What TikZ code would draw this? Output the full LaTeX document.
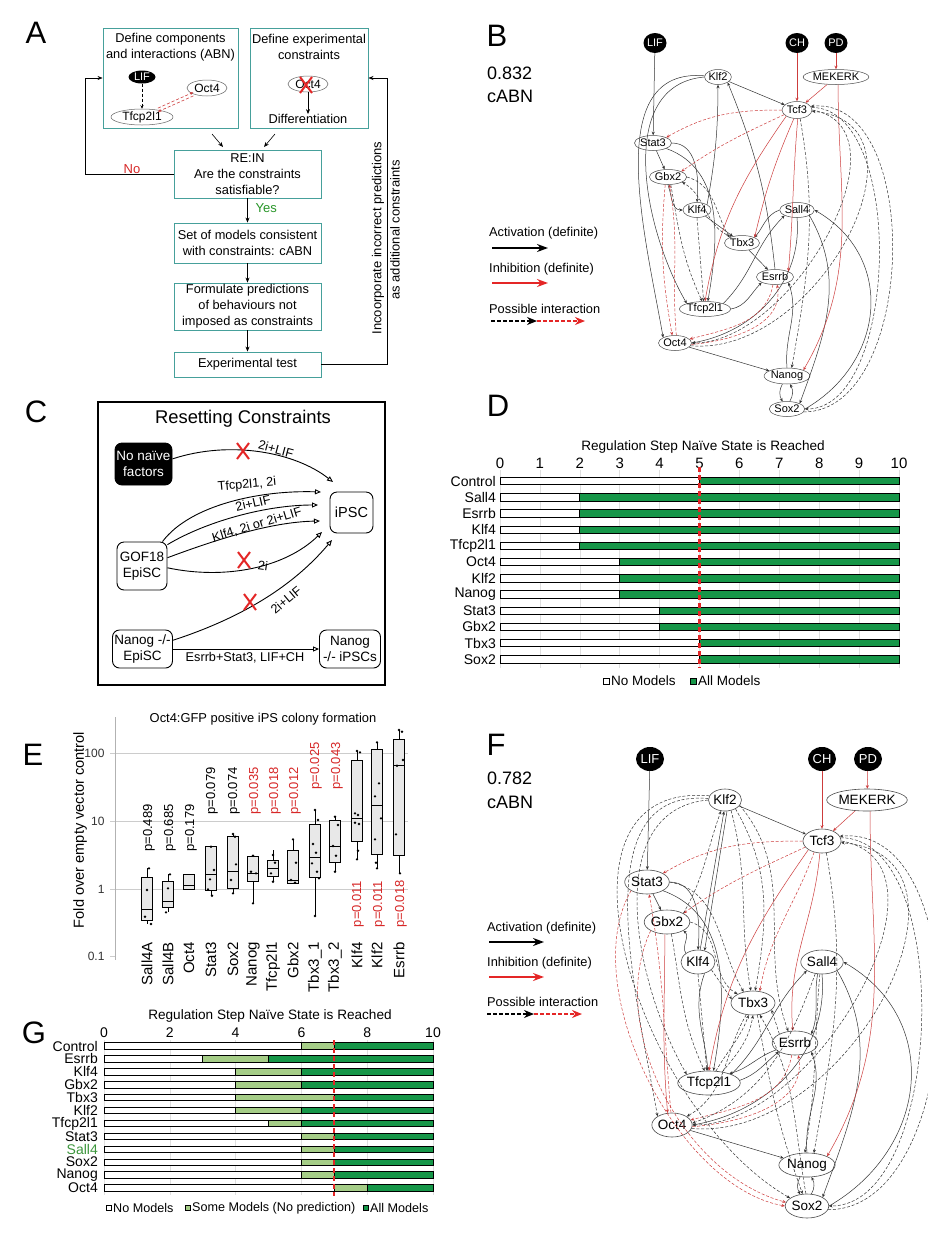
\documentclass[tikz,border=0pt]{standalone}
\usepackage{fontspec}
\setmainfont{Liberation Sans}
\usetikzlibrary{arrows.meta,shapes.geometric,calc}
\definecolor{tealb}{RGB}{70,160,155}
\definecolor{xred}{RGB}{228,38,38}
\definecolor{nred}{RGB}{205,60,60}
\definecolor{tred}{RGB}{215,40,40}
\definecolor{ygreen}{RGB}{40,150,40}
\definecolor{bgreen}{RGB}{22,150,72}
\definecolor{lgreen}{RGB}{165,205,135}
\definecolor{sgreen}{RGB}{60,150,60}
\newcommand{\fsz}[1]{\fontsize{#1}{#1}\selectfont}
\newcommand{\fsl}[2]{\fontsize{#1}{#2}\selectfont}
\newcommand{\redx}[1]{\draw[xred,line width=2pt] ($(#1)+(-6,-8)$) -- ($(#1)+(6,8)$) ($(#1)+(6,-8)$) -- ($(#1)+(-6,8)$);}
\begin{document}
\begin{tikzpicture}[x=1pt,y=-1pt,
 plab/.style={inner sep=0pt, font=\fsz{31}},
 abox/.style={draw=tealb, line width=0.9pt, inner sep=0pt},
 atxt/.style={align=center, font=\fsl{12.8}{16}, inner sep=0pt},
 aarr/.style={line width=0.6pt, -{Stealth[length=5pt,width=4pt]}},
 cn/.style={draw, rounded corners=7pt, line width=0.9pt, align=center, font=\fsl{13.5}{16.5}, inner sep=0pt},
 carr/.style={line width=0.9pt, -{Triangle[open,length=6pt,width=5pt]}},
 clab/.style={font=\fsz{12.7}, inner sep=1pt},
 bn/.style={ellipse, draw=black!70, line width=0.5pt, inner sep=0pt, font=\fsz{11}},
 bin/.style={ellipse, fill=black, text=white, inner sep=0pt, font=\fsz{11}, minimum width=23, minimum height=20},
 fn/.style={ellipse, draw=black!70, line width=0.6pt, inner sep=0pt, font=\fsz{13.5}},
 fin/.style={ellipse, fill=black, text=white, inner sep=0pt, font=\fsz{13}, minimum width=28, minimum height=24},
 eact/.style={draw=black!80, line width=0.5pt, -{Stealth[length=3.5pt,width=3pt]}},
 einh/.style={draw=nred, line width=0.5pt, -{Stealth[length=3.5pt,width=3pt]}},
 epact/.style={eact, dash pattern=on 3pt off 1.8pt},
 epinh/.style={einh, dash pattern=on 3pt off 1.8pt},
 lgtxt/.style={font=\fsz{12.8}, anchor=west, inner sep=0pt},
 lgarr/.style={line width=1.6pt, -{Stealth[length=11pt,width=8pt]}},
 lgdash/.style={line width=1.4pt, dash pattern=on 4pt off 2pt, -{Stealth[length=10pt,width=8pt]}},
 reddash/.style={draw=xred, line width=2.2pt, dash pattern=on 5pt off 3pt},
 ]
\useasboundingbox[fill=white] (0,0) rectangle (928,1240);

% ================= PANEL A =================
\node[plab] (labA) at (36,33) {A};
\node[abox, minimum width=135, minimum height=100] (a1) at (170.5,78) {};
\node[atxt] (a1t) at (170.5,47) {Define components\\and interactions (ABN)};
\node[ellipse, fill=black, text=white, inner sep=0pt, minimum width=27, minimum height=13, font=\fsz{11}] (aLIF) at (142,77) {LIF};
\node[ellipse, draw=black!60, line width=0.5pt, inner sep=0pt, minimum width=40, minimum height=16, font=\fsz{12}] (aOct4) at (207,88) {Oct4};
\node[ellipse, draw=black!60, line width=0.5pt, inner sep=0pt, minimum width=62, minimum height=16, font=\fsz{12}] (aTf) at (142,117) {Tfcp2l1};
\draw[line width=0.5pt, densely dashed, -{Stealth[length=3.5pt,width=3pt]}] (aLIF) -- (aTf);
\draw[nred, line width=0.6pt, densely dashed, -{Stealth[length=3.5pt,width=3pt]}, transform canvas={shift={(0,1.8)}}] (aOct4) -- (aTf);
\draw[nred, line width=0.6pt, densely dashed, -{Stealth[length=3.5pt,width=3pt]}, transform canvas={shift={(0,-1.8)}}] (aTf) -- (aOct4);

\node[abox, minimum width=118, minimum height=100] (a2) at (309,78) {};
\node[atxt] (a2t) at (309,47) {Define experimental\\constraints};
\node[ellipse, draw=black!60, line width=0.5pt, inner sep=0pt, minimum width=40, minimum height=16, font=\fsz{12}] (aOct4b) at (308,84) {Oct4};
\coordinate (ax1) at (306,85);
\redx{ax1}
\node[atxt] (adiff) at (308,119) {Differentiation};
\draw[aarr] (aOct4b) -- (adiff);

\node[abox, atxt, minimum width=147, minimum height=48] (arein) at (247.5,174) {RE:IN\\Are the constraints\\satisfiable?};
\node[abox, atxt, minimum width=147, minimum height=40] (aset) at (247.5,243) {Set of models consistent\\with constraints: cABN};
\node[abox, atxt, minimum width=147, minimum height=47] (aform) at (247.5,306.5) {Formulate predictions\\of behaviours not\\imposed as constraints};
\node[abox, atxt, minimum width=147, minimum height=25] (aexp) at (247.5,364.5) {Experimental test};

\coordinate (a1o) at (212,134); \coordinate (a1e) at (223,147);
\coordinate (a2o) at (275,134); \coordinate (a2e) at (264,147);
\draw[aarr] (a1o) -- (a1e);
\draw[aarr] (a2o) -- (a2e);
\draw[aarr] (arein.west) -- ++(-88,0) |- (a1.west);
\node[font=\fsz{13}, text=tred] (ano) at (132,169) {No};
\draw[aarr] (arein) -- (aset);
\node[font=\fsz{13}, text=ygreen, anchor=west] (ayes) at (252,208) {Yes};
\draw[aarr] (aset) -- (aform);
\draw[aarr] (aform) -- (aexp);
\draw[aarr] (aexp.east) -- (387,364.5) |- (a2.east);
\node[rotate=90, font=\fsz{13}] (afb1) at (378,238) {Incoorporate incorrect predictions};
\node[rotate=90, font=\fsz{13}] (afb2) at (395,230) {as additional constraints};

% ================= PANEL B =================
\node[plab] (labB) at (497,36) {B};
\node[font=\fsz{18}, anchor=west, inner sep=0pt] (bval) at (487,73) {0.832};
\node[font=\fsz{18}, anchor=west, inner sep=0pt] (bcabn) at (487,96) {cABN};

\node[bin] (bLIF) at (655,43) {LIF};
\node[bin] (bCH) at (797,43) {CH};
\node[bin] (bPD) at (836,43) {PD};
\node[bn, minimum width=65, minimum height=15] (bMEK) at (836,77) {MEKERK};
\node[bn, minimum width=25, minimum height=15] (bKlf2) at (718,77) {Klf2};
\node[bn, minimum width=30, minimum height=17] (bTcf3) at (797,110) {Tcf3};
\node[bn, minimum width=37, minimum height=15] (bStat3) at (653,143) {Stat3};
\node[bn, minimum width=37, minimum height=15] (bGbx2) at (668,177) {Gbx2};
\node[bn, minimum width=28, minimum height=15] (bKlf4) at (697,210) {Klf4};
\node[bn, minimum width=33, minimum height=15] (bSall4) at (797,210) {Sall4};
\node[bn, minimum width=35, minimum height=15] (bTbx3) at (742,243) {Tbx3};
\node[bn, minimum width=35, minimum height=15] (bEsrrb) at (775,277) {Esrrb};
\node[bn, minimum width=50, minimum height=15] (bTfcp) at (705,309) {Tfcp2l1};
\node[bn, minimum width=33, minimum height=15] (bOct4) at (675,343) {Oct4};
\node[bn, minimum width=45, minimum height=16] (bNanog) at (787,376) {Nanog};
\node[bn, minimum width=33, minimum height=15] (bSox2) at (787,409) {Sox2};

% activation
\draw[eact] (bLIF) -- (bStat3);
\draw[eact] (bKlf2) -- (bTcf3);
\draw[eact] (bEsrrb.north) to[bend right=8] (bKlf2.south east);
\draw[eact] (bKlf2.west) to[out=185,in=120] (bTfcp.north west);
\draw[eact] (bKlf2.175) to[out=175,in=100] (bOct4.north west);
\draw[eact] (bKlf4.north east) to[bend right=5] (bKlf2.south);
\draw[eact] (bStat3) -- (bGbx2);
\draw[eact] (bStat3.east) to[out=0,in=85] (bKlf4.north);
\draw[eact] (bStat3.south east) to[out=-20,in=80] (bTfcp.70);
\draw[eact] (bGbx2.south) to[out=-70,in=180] (bKlf4.west);
\draw[eact] (bKlf4) -- (bTbx3);
\draw[eact] (bSall4.west) to[out=200,in=50] (bTbx3.north east);
\draw[eact] (bTbx3) -- (bEsrrb);
\draw[eact] (bTfcp.north east) to[out=45,in=225] (bSall4.south west);
\draw[eact] (bTfcp.east) to[out=10,in=225] (bEsrrb.south west);
\draw[eact] (bSall4.south) to[out=-85,in=10] (bOct4.east);
\draw[eact] (bSall4.south east) to[out=-60,in=70] (bSox2.north east);
\draw[eact] (bSox2.east) to[out=30,in=-30,looseness=1.2] (bSall4.east);
\draw[eact] (bNanog.north) to[out=95,in=-70] (bEsrrb.south east);
\draw[eact] (bOct4) -- (bNanog);
\draw[eact] (bNanog.240) to[bend right=30] (bSox2.120);
\draw[eact] (bSox2.70) to[bend right=30] (bNanog.290);
% inhibition
\draw[einh] (bCH) -- (bTcf3);
\draw[einh] (bPD) -- (bMEK);
\draw[einh] (bMEK) -- (bTcf3);
\draw[einh] (bMEK.-75) to[out=-90,in=60] (bNanog.north east);
\draw[einh] (bTcf3.south west) to[out=235,in=80] (bTfcp.north);
\draw[einh] (bTcf3.250) to[bend right=5] (bTbx3.north east);
\draw[einh] (bTcf3.275) to[out=-95,in=85] (bEsrrb.north east);
% possible inhibition
\draw[epinh] (bTcf3.west) to[out=180,in=30] (bStat3.north east);
\draw[epinh] (bTcf3.200) to[out=205,in=35] (bGbx2.north east);
\draw[epinh] (bGbx2.250) to[out=-95,in=100] (bOct4.110);
\draw[epinh] (bOct4.80) to[out=95,in=-80] (bGbx2.280);
\draw[epinh] (bEsrrb.255) to[out=-100,in=15] (bOct4.15);
\draw[epinh] (bOct4.-5) to[out=5,in=-80] (bEsrrb.285);
% possible activation
\draw[epact] (bGbx2.east) to[out=-15,in=120] (bTbx3.north west);
\draw[epact] (bTbx3.150) to[out=160,in=-30] (bGbx2.-20);
\draw[epact] (bKlf4.south) -- (bTfcp.100);
\draw[epact] (bGbx2.290) to[out=-80,in=115] (bTfcp.110);
\draw[epact] (bTcf3.east) to[out=-10,in=0] (bOct4.east);
\draw[epact] (bOct4.-10) to[out=-5,in=-5,looseness=1.25] (bTcf3.-5);
\draw[epact] (bTcf3.10) to[out=0,in=0,looseness=0.8] (bSox2.east);
\draw[epact] (bSox2.-10) to[out=0,in=5,looseness=0.95] (bTcf3.15);
\draw[epact] (bTcf3.-70) to[out=-80,in=80] (bNanog.60);

% legend B
\node[lgtxt] (blg1) at (489,233) {Activation (definite)};
\coordinate (bla1) at (492,248); \coordinate (bla2) at (548,248);
\draw[lgarr] (bla1) -- (bla2);
\node[lgtxt] (blg2) at (489,269) {Inhibition (definite)};
\coordinate (bli1) at (492,283); \coordinate (bli2) at (548,283);
\draw[lgarr, xred] (bli1) -- (bli2);
\node[lgtxt] (blg3) at (489,309) {Possible interaction};
\coordinate (blp1) at (491,321); \coordinate (blp2) at (537,321); \coordinate (blp3) at (585,321);
\draw[lgdash] (blp1) -- (blp2);
\draw[lgdash, xred] (blp2) -- (blp3);

% ================= PANEL C =================
\node[plab] (labC) at (36,412) {C};
\node[draw, line width=1.5pt, minimum width=287, minimum height=283, inner sep=0pt] (cbox) at (241.5,543.5) {};
\node[font=\fsz{18.4}] (ctitle) at (243,419) {Resetting Constraints};
\node[cn, fill=black, text=white, minimum width=57, minimum height=42] (cno) at (143.5,464) {No naïve\\factors};
\node[cn, font=\fsz{14.5}, minimum width=43, minimum height=41] (cipsc) at (351.5,512.5) {iPSC};
\node[cn, minimum width=50, minimum height=48] (cgof) at (142,566) {GOF18\\EpiSC};
\node[cn, minimum width=60, minimum height=38] (cnan) at (142.5,649) {Nanog -/-\\EpiSC};
\node[cn, minimum width=61, minimum height=38] (cnip) at (350,649) {Nanog\\-/- iPSCs};
\coordinate (ce1) at (333,482);
\coordinate (ce2) at (321,492);
\coordinate (ce3) at (318,505);
\coordinate (ce4) at (320,521);
\coordinate (ce5) at (322,532);
\coordinate (ce6) at (332,540);
\draw[carr] (cno.10) .. controls (230,440) and (295,452) .. (ce1);
\draw[carr] (cgof.50) .. controls (190,505) and (260,490) .. (ce2);
\draw[carr] (cgof.40) .. controls (205,522) and (265,505) .. (ce3);
\draw[carr] (cgof.18) .. controls (215,540) and (270,522) .. (ce4);
\draw[carr] (cgof.-4) .. controls (225,580) and (285,568) .. (ce5);
\draw[carr] (cnan.16) .. controls (235,620) and (290,590) .. (ce6);
\draw[carr] (cnan.east) -- (cnip.west);
\node[clab, rotate=-15] (cl1) at (276,449) {2i+LIF};
\node[clab, rotate=5] (cl2) at (247,485) {Tfcp2l1, 2i};
\node[clab, rotate=13] (cl3) at (253,503) {2i+LIF};
\node[clab, rotate=17] (cl4) at (257,525) {Klf4, 2i or 2i+LIF};
\node[clab, rotate=-8] (cl5) at (263,566) {2i};
\node[clab, rotate=40] (cl6) at (286,600) {2i+LIF};
\node[clab] (cl7) at (245,658) {Esrrb+Stat3, LIF+CH};
\coordinate (cx1) at (243,451); \redx{cx1}
\coordinate (cx2) at (244,560); \redx{cx2}
\coordinate (cx3) at (250,602); \redx{cx3}

% ================= PANEL D =================
\node[plab] (labD) at (498,406) {D};
\node[font=\fsz{13.6}] (dtitle) at (703,447) {Regulation Step Naïve State is Reached};
\foreach \k in {0,...,10} {
  \draw[gray!25, line width=0.6pt] ({500+39.9*\k},470) -- ({500+39.9*\k},668);
  \node[font=\fsz{15}] (dt\k) at ({500+39.9*\k},463) {\k};
}
\foreach \lab/\v [count=\i from 0] in {Control/5,Sall4/2,Esrrb/2,Klf4/2,Tfcp2l1/2,Oct4/3,Klf2/3,Nanog/3,Stat3/4,Gbx2/4,Tbx3/5,Sox2/5} {
  \pgfmathsetmacro\yy{481+16.2*\i}
  \pgfmathsetmacro\xv{500+39.9*\v}
  \draw[line width=0.7pt, fill=white] (500,\yy-3.7) rectangle (\xv,\yy+3.7);
  \draw[line width=0.7pt, fill=bgreen] (\xv,\yy-3.7) rectangle (899,\yy+3.7);
  \node[anchor=east, font=\fsz{14}, inner sep=0pt] (dl\i) at (496,\yy) {\lab};
}
\coordinate (dr1) at (699.5,467); \coordinate (dr2) at (699.5,668);
\draw[reddash] (dr1) -- (dr2);
\node[draw, fill=white, minimum size=6, inner sep=0pt, line width=0.7pt] (dlg1) at (606,681) {};
\node[anchor=west, font=\fsz{13.5}, inner sep=0pt] (dlg1t) at (611,681) {No Models};
\node[draw, fill=bgreen, minimum size=6, inner sep=0pt, line width=0.7pt] (dlg2) at (693,681) {};
\node[anchor=west, font=\fsz{13.5}, inner sep=0pt] (dlg2t) at (698,681) {All Models};

% ================= PANEL E =================
\node[plab] (labE) at (33,755) {E};
\node[font=\fsz{12.9}] (etitle) at (263,719) {Oct4:GFP positive iPS colony formation};
\foreach \yv/\t in {753/100, 821/10, 889/1} {
  \draw[gray!40, line width=0.6pt] (110,\yv) -- (408,\yv);
  \node[anchor=east, font=\fsz{12}, text=black!80] at (108,\yv) {\t};
}
\draw[gray!40, line width=0.6pt] (110,956) -- (115,956);
\node[anchor=east, font=\fsz{12}, text=black!80] (e01) at (108,956) {0.1};
\draw[gray!60, line width=0.6pt] (115,717) -- (115,960);
\node[rotate=90, font=\fsz{14.6}] (eylab) at (80,830) {Fold over empty vector control};
\foreach \x/\wt/\bt/\md/\bb/\wb in {147/868.3/877.7/909.3/920/924, 168/874.3/881/901.7/907.3/912.3, 189/874/874/885.7/889.3/889.3, 211/846.7/846.7/874/890.7/895.7, 233/834/836.7/871/888.7/894, 253/855.7/856/873.3/881/903.3, 273/850/860/868.3/876.7/881.7, 293/839.3/850.7/880/883.3/884.3, 315/810/824/857.7/877.3/916, 335/816.7/820.7/846/862.7/871.7, 357/751/760.7/818.3/841.7/859.3, 377/741.7/749/805.7/854.3/868.3, 399/730/739/765/855/873.3} {
  \draw[line width=0.9pt] (\x,\wt) -- (\x,\bt);
  \draw[line width=0.9pt] (\x,\bb) -- (\x,\wb);
  \draw[line width=0.9pt, fill=gray!18] (\x-5.5,\bt) rectangle (\x+5.5,\bb);
  \draw[line width=0.9pt] (\x-5.5,\md) -- (\x+5.5,\md);
}
\foreach \x/\y in {147/890, 145/916.7, 151/924, 149/868.3, 168/888.3, 170/874.3, 166/912.3,
  211/846.7, 214/870, 210/879.3, 208/889.3, 212/895.7,
  233/834, 235/836.7, 236/864.3, 231/880, 233/893.3,
  253/855.7, 251/871.7, 256/873.3, 253/903.3,
  273/855, 275/862.7, 271/873.3, 273/881.7,
  293/839.3, 296/862.7, 291/880, 295/882.7,
  315/810, 318/820, 313/844, 316/852.7, 312/863.3, 317/871.7, 319/878.3, 315/916,
  335/816.7, 338/825, 333/846, 336/855.7, 335/871.7,
  357/751, 360/752.3, 355/813.3, 358/815, 355/822.7, 359/824, 358/850.7, 357/859.3,
  377/742.3, 379/783.3, 375/796.3, 381/818.3, 375/839.3, 376/862.7, 377/868.3,
  399/730, 402/731.7, 403/760, 397/765.7, 396/834.3, 400/873.3} {
  \fill (\x,\y) circle (1.3);
}
\foreach \x/\y/\t/\c in {149/828/0.489/black, 170/828/0.685/black, 191/828/0.179/black, 212/791/0.079/black, 234/791/0.074/black, 255/791/0.035/tred, 275/791/0.018/tred, 295/791/0.012/tred, 316/766/0.025/tred, 337/766/0.043/tred, 358/904/0.011/tred, 379/904/0.011/tred, 401/904/0.018/tred} {
  \node[rotate=90, text=\c, font=\fsz{13}] at (\x,\y) {p=\t};
}
\foreach \x/\t in {147/Sall4A, 168/Sall4B, 189/Oct4, 211/Stat3, 233/Sox2, 253/Nanog, 273/Tfcp2l1, 293/Gbx2, 315/Tbx3\_1, 335/Tbx3\_2, 357/Klf4, 377/Klf2, 399/Esrrb} {
  \node[rotate=90, anchor=east, font=\fsz{15}, inner sep=0pt] at (\x,942) {\t};
}

% ================= PANEL F =================
\node[plab] (labF) at (496,745) {F};
\node[font=\fsz{18}, anchor=west, inner sep=0pt] (fval) at (487,778) {0.782};
\node[font=\fsz{18}, anchor=west, inner sep=0pt] (fcabn) at (487,802) {cABN};

\node[fin] (fLIF) at (650,759) {LIF};
\node[fin] (fCH) at (822,759) {CH};
\node[fin] (fPD) at (868,759) {PD};
\node[fn, minimum width=78, minimum height=22] (fMEK) at (867,800) {MEKERK};
\node[fn, minimum width=33, minimum height=22] (fKlf2) at (725,800) {Klf2};
\node[fn, minimum width=38, minimum height=24] (fTcf3) at (822,841) {Tcf3};
\node[fn, minimum width=44, minimum height=24] (fStat3) at (647,882) {Stat3};
\node[fn, minimum width=44, minimum height=24] (fGbx2) at (667,922) {Gbx2};
\node[fn, minimum width=34, minimum height=24] (fKlf4) at (698,962) {Klf4};
\node[fn, minimum width=42, minimum height=24] (fSall4) at (822,962) {Sall4};
\node[fn, minimum width=44, minimum height=24] (fTbx3) at (753,1003) {Tbx3};
\node[fn, minimum width=44, minimum height=24] (fEsrrb) at (795,1043) {Esrrb};
\node[fn, minimum width=62, minimum height=24] (fTfcp) at (709,1083) {Tfcp2l1};
\node[fn, minimum width=40, minimum height=24] (fOct4) at (672,1125) {Oct4};
\node[fn, minimum width=52, minimum height=24] (fNanog) at (807,1165) {Nanog};
\node[fn, minimum width=42, minimum height=24] (fSox2) at (807,1206) {Sox2};

% activation
\draw[eact] (fLIF) -- (fStat3);
\draw[eact] (fKlf2) -- (fTcf3);
\draw[eact] (fStat3) -- (fGbx2);
\draw[eact] (fStat3.east) to[out=0,in=85] (fKlf4.north);
\draw[eact] (fStat3.south east) to[out=-20,in=80] (fTfcp.70);
\draw[eact] (fKlf4.north west) to[out=120,in=-40] (fGbx2.south east);
\draw[eact] (fKlf4.80) -- (fKlf2.265);
\draw[eact] (fKlf2.280) -- (fKlf4.60);
\draw[eact] (fKlf4.-60) to[out=-110,in=95] (fTfcp.95);
\draw[eact] (fTfcp.north east) to[out=45,in=225] (fSall4.south west);
\draw[eact] (fTfcp.5) to[out=20,in=220] (fEsrrb.south west);
\draw[eact] (fEsrrb.200) to[out=200,in=15] (fTfcp.25);
\draw[eact] (fSall4.250) to[out=-100,in=70] (fEsrrb.north east);
\draw[eact] (fSall4.south) to[out=-85,in=10] (fOct4.east);
\draw[eact] (fSall4.south east) to[out=-60,in=70] (fSox2.north east);
\draw[eact] (fSox2.east) to[out=30,in=-30,looseness=1.2] (fSall4.east);
\draw[eact] (fNanog.north) to[out=95,in=-70] (fEsrrb.south east);
\draw[eact] (fOct4) -- (fNanog);
\draw[eact] (fNanog.240) to[bend right=30] (fSox2.120);
\draw[eact] (fSox2.70) to[bend right=30] (fNanog.290);
% inhibition
\draw[einh] (fCH) -- (fTcf3);
\draw[einh] (fPD) -- (fMEK);
\draw[einh] (fMEK) -- (fTcf3);
\draw[einh] (fMEK.-75) to[out=-90,in=60] (fNanog.north east);
\draw[einh] (fTcf3.south west) to[out=235,in=80] (fTfcp.north);
\draw[einh] (fTcf3.260) to[out=-95,in=95] (fEsrrb.100);
\draw[einh] (fGbx2.260) to[out=-90,in=95] (fOct4.110);
% possible inhibition
\draw[epinh] (fTcf3.west) to[out=180,in=30] (fStat3.north east);
\draw[epinh] (fTcf3.200) to[out=205,in=35] (fGbx2.north east);
\draw[epinh] (fTcf3.235) to[out=250,in=80] (fTbx3.60);
\draw[epinh] (fOct4.95) to[out=95,in=-80] (fStat3.-80);
\draw[epinh] (fEsrrb.255) to[out=-100,in=15] (fOct4.15);
\draw[epinh] (fOct4.-5) to[out=5,in=-80] (fEsrrb.285);
\draw[epinh] (fStat3.south west) to[out=-120,in=170,looseness=0.8] (fSox2.west);
\draw[epinh] (fGbx2.south west) to[out=-115,in=165,looseness=0.9] (fSox2.170);
% possible activation
\draw[epact] (fKlf2.west) to[out=185,in=120] (fTfcp.north west);
\draw[epact] (fKlf2.175) to[out=175,in=100] (fOct4.north west);
\draw[epact] (fKlf2.165) to[out=175,in=150,looseness=1.1] (fSox2.155);
\draw[epact] (fGbx2.north east) to[out=60,in=-110] (fKlf2.250);
\draw[epact] (fKlf2.-60) to[out=-75,in=100] (fTbx3.100);
\draw[epact] (fKlf2.-40) to[out=-60,in=80] (fTbx3.80);
\draw[epact] (fKlf2.-20) to[out=-50,in=110] (fEsrrb.120);
\draw[epact] (fStat3.east) to[out=-10,in=120] (fTbx3.130);
\draw[epact] (fGbx2.east) to[out=-15,in=150] (fTbx3.150);
\draw[epact] (fKlf4.-30) -- (fTbx3.170);
\draw[epact] (fKlf4.south) -- (fTfcp.100);
\draw[epact] (fGbx2.290) to[out=-80,in=115] (fTfcp.110);
\draw[epact] (fTfcp.60) to[out=60,in=-110] (fTbx3.-110);
\draw[epact] (fTfcp.40) to[out=50,in=-100] (fTbx3.-90);
\draw[epact] (fTbx3.-120) to[out=-120,in=30] (fOct4.30);
\draw[epact] (fTbx3.-70) to[out=-80,in=110] (fSox2.110);
\draw[epact] (fSox2.95) to[out=100,in=-60] (fTbx3.-60);
\draw[epact] (fEsrrb.150) -- (fTbx3.-20);
\draw[epact] (fSall4.-120) to[out=-110,in=20] (fOct4.5);
\draw[epact] (fSall4.-100) to[out=-95,in=80] (fNanog.100);
\draw[epact] (fTcf3.east) to[out=-10,in=0] (fOct4.east);
\draw[epact] (fOct4.-10) to[out=-5,in=-5,looseness=1.25] (fTcf3.-5);
\draw[epact] (fTcf3.10) to[out=0,in=0,looseness=0.8] (fSox2.east);
\draw[epact] (fSox2.-10) to[out=0,in=5,looseness=0.95] (fTcf3.15);
\draw[epact] (fTcf3.-70) to[out=-80,in=80] (fNanog.60);

% legend F
\node[lgtxt] (flg1) at (487,928) {Activation (definite)};
\coordinate (fla1) at (489,942); \coordinate (fla2) at (544,942);
\draw[lgarr] (fla1) -- (fla2);
\node[lgtxt] (flg2) at (487,963) {Inhibition (definite)};
\coordinate (fli1) at (489,977); \coordinate (fli2) at (544,977);
\draw[lgarr, xred] (fli1) -- (fli2);
\node[lgtxt] (flg3) at (487,1002) {Possible interaction};
\coordinate (flp1) at (487,1014); \coordinate (flp2) at (534,1014); \coordinate (flp3) at (582,1014);
\draw[lgdash] (flp1) -- (flp2);
\draw[lgdash, xred] (flp2) -- (flp3);

% ================= PANEL G =================
\node[plab] (labG) at (34,1033) {G};
\node[font=\fsz{13.6}] (gtitle) at (270,1016) {Regulation Step Naïve State is Reached};
\foreach \k in {0,2,...,10} {
  \draw[gray!25, line width=0.6pt] ({104+32.9*\k},1040) -- ({104+32.9*\k},1195);
  \node[font=\fsz{14}] (gt\k) at ({104+32.9*\k},1033) {\k};
}
\foreach \lab/\a/\b/\c [count=\i from 0] in {Control/6/7/black, Esrrb/3/5/black, Klf4/4/6/black, Gbx2/4/6/black, Tbx3/4/7/black, Klf2/4/6/black, Tfcp2l1/5/6/black, Stat3/6/7/black, Sall4/6/7/sgreen, Sox2/6/7/black, Nanog/6/7/black, Oct4/7/8/black} {
  \pgfmathsetmacro\yy{1046+12.9*\i}
  \pgfmathsetmacro\xa{104+32.9*\a}
  \pgfmathsetmacro\xb{104+32.9*\b}
  \draw[line width=0.7pt, fill=white] (104,\yy-3.2) rectangle (\xa,\yy+3.2);
  \draw[line width=0.7pt, fill=lgreen] (\xa,\yy-3.2) rectangle (\xb,\yy+3.2);
  \draw[line width=0.7pt, fill=bgreen] (\xb,\yy-3.2) rectangle (433,\yy+3.2);
  \node[anchor=east, font=\fsz{14}, inner sep=0pt, text=\c] (gl\i) at (98,\yy) {\lab};
}
\coordinate (gr1) at (334.3,1040); \coordinate (gr2) at (334.3,1196);
\draw[reddash] (gr1) -- (gr2);
\node[draw, fill=white, minimum size=5.5, inner sep=0pt, line width=0.6pt] (glg1) at (109,1208) {};
\node[anchor=west, font=\fsz{12.6}, inner sep=0pt] (glg1t) at (113,1208) {No Models};
\node[draw, fill=lgreen, minimum size=5.5, inner sep=0pt, line width=0.6pt] (glg2) at (188,1208) {};
\node[anchor=west, font=\fsz{12.6}, inner sep=0pt] (glg2t) at (192,1208) {Some Models (No prediction)};
\node[draw, fill=bgreen, minimum size=5.5, inner sep=0pt, line width=0.6pt] (glg3) at (366,1208) {};
\node[anchor=west, font=\fsz{12.6}, inner sep=0pt] (glg3t) at (370,1208) {All Models};
\end{tikzpicture}
\end{document}
